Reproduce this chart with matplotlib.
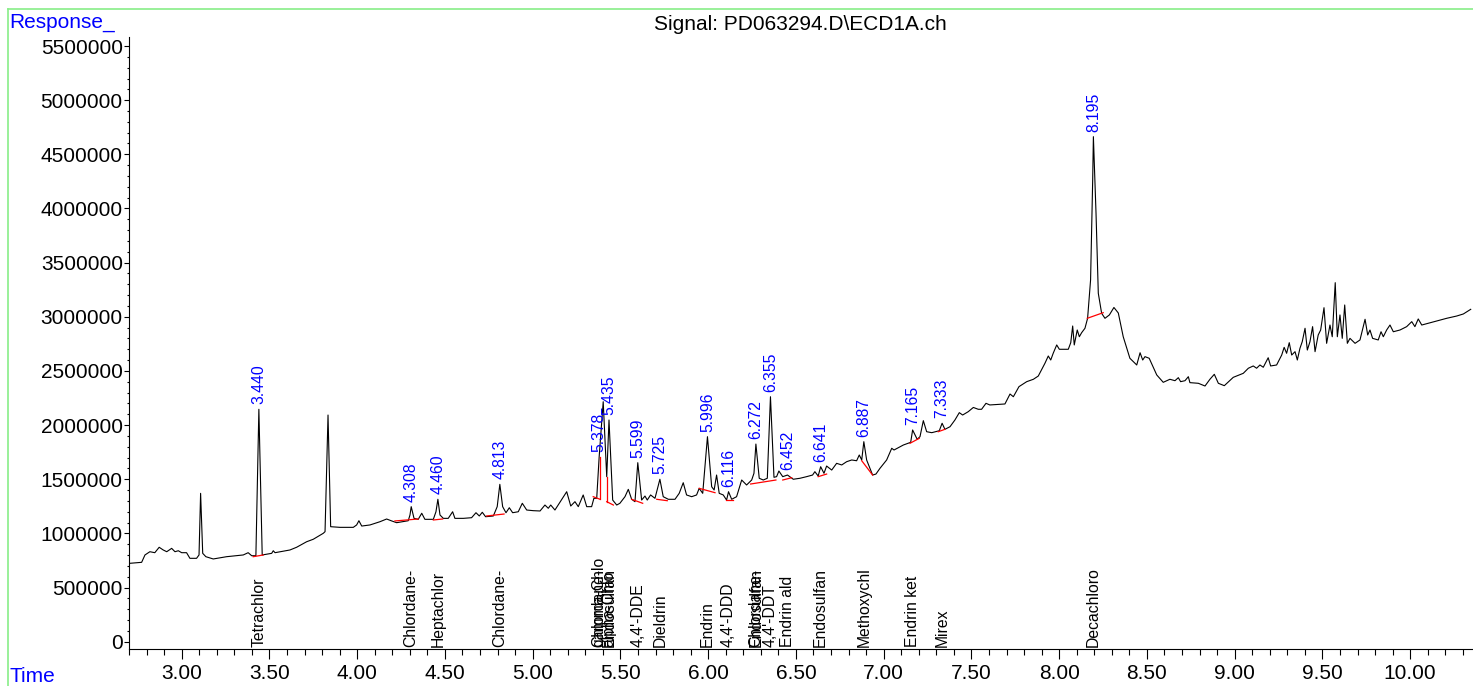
import matplotlib
matplotlib.use("Agg")
import matplotlib.pyplot as plt
from matplotlib.ticker import MultipleLocator, FuncFormatter
from matplotlib.lines import Line2D

plt.rcParams['font.family'] = ['Liberation Sans', 'DejaVu Sans']

# Step 1: trace (time in min, response)
time = [2.705, 2.772, 2.791, 2.819, 2.847, 2.872, 2.895, 2.915, 2.943, 2.962,
        2.981, 3.000, 3.028, 3.047, 3.085, 3.099, 3.108, 3.120, 3.138, 3.180,
        3.256, 3.313, 3.351, 3.379, 3.399, 3.423, 3.440, 3.459, 3.513, 3.522,
        3.532, 3.617, 3.655, 3.712, 3.750, 3.807, 3.817, 3.834, 3.849, 3.902,
        3.978, 3.997, 4.010, 4.026, 4.073, 4.130, 4.168, 4.197, 4.225, 4.291,
        4.301, 4.308, 4.324, 4.348, 4.368, 4.386, 4.434, 4.449, 4.460, 4.472,
        4.491, 4.519, 4.544, 4.557, 4.605, 4.652, 4.677, 4.696, 4.713, 4.732,
        4.776, 4.798, 4.813, 4.829, 4.848, 4.867, 4.886, 4.918, 4.941, 4.966,
        5.003, 5.042, 5.070, 5.089, 5.103, 5.127, 5.194, 5.217, 5.241, 5.260,
        5.288, 5.308, 5.336, 5.349, 5.365, 5.379, 5.402, 5.422, 5.435, 5.456,
        5.479, 5.497, 5.526, 5.545, 5.564, 5.583, 5.599, 5.621, 5.640, 5.653,
        5.672, 5.697, 5.725, 5.744, 5.773, 5.811, 5.835, 5.858, 5.877, 5.906,
        5.934, 5.949, 5.969, 5.996, 6.020, 6.034, 6.048, 6.063, 6.086, 6.105,
        6.116, 6.134, 6.162, 6.191, 6.219, 6.248, 6.261, 6.272, 6.291, 6.314,
        6.337, 6.355, 6.375, 6.390, 6.403, 6.425, 6.452, 6.485, 6.523, 6.561,
        6.595, 6.608, 6.627, 6.641, 6.660, 6.675, 6.704, 6.732, 6.761, 6.789,
        6.818, 6.846, 6.861, 6.875, 6.887, 6.903, 6.937, 6.956, 6.979, 7.017,
        7.046, 7.059, 7.112, 7.154, 7.165, 7.191, 7.207, 7.226, 7.245, 7.274,
        7.317, 7.333, 7.349, 7.378, 7.406, 7.431, 7.450, 7.482, 7.511, 7.539,
        7.558, 7.583, 7.605, 7.691, 7.720, 7.739, 7.771, 7.815, 7.853, 7.881,
        7.919, 7.938, 7.952, 7.966, 7.986, 8.001, 8.052, 8.066, 8.077, 8.086,
        8.103, 8.115, 8.128, 8.147, 8.162, 8.179, 8.191, 8.195, 8.210, 8.223,
        8.242, 8.261, 8.286, 8.312, 8.337, 8.365, 8.403, 8.442, 8.461, 8.476,
        8.489, 8.513, 8.556, 8.593, 8.631, 8.660, 8.679, 8.692, 8.717, 8.736,
        8.745, 8.793, 8.831, 8.859, 8.884, 8.907, 8.941, 8.992, 9.049, 9.078,
        9.106, 9.125, 9.144, 9.163, 9.191, 9.205, 9.239, 9.268, 9.282, 9.296,
        9.311, 9.325, 9.344, 9.357, 9.372, 9.385, 9.401, 9.414, 9.429, 9.444,
        9.458, 9.476, 9.490, 9.509, 9.524, 9.543, 9.556, 9.573, 9.585, 9.600,
        9.613, 9.627, 9.642, 9.657, 9.686, 9.714, 9.743, 9.758, 9.771, 9.786,
        9.818, 9.834, 9.847, 9.866, 9.885, 9.904, 9.942, 9.980, 10.009, 10.027,
        10.046, 10.066, 10.103, 10.151, 10.208, 10.265, 10.303, 10.345]

response = [724000, 733000, 801000, 831000, 822000, 872000, 847000, 831000, 862000, 831000,
            840000, 822000, 822000, 770000, 770000, 801000, 1370000, 816000, 785000, 764000,
            785000, 794000, 801000, 822000, 794000, 794000, 2146000, 801000, 816000, 840000,
            822000, 847000, 872000, 923000, 946000, 1001000, 1016000, 2093000, 1062000, 1056000,
            1056000, 1078000, 1117000, 1068000, 1078000, 1108000, 1133000, 1115000, 1099000, 1117000,
            1170000, 1247000, 1139000, 1130000, 1186000, 1130000, 1130000, 1200000, 1315000, 1170000,
            1139000, 1139000, 1200000, 1139000, 1139000, 1145000, 1191000, 1161000, 1195000, 1154000,
            1161000, 1247000, 1453000, 1247000, 1191000, 1237000, 1191000, 1200000, 1278000, 1216000,
            1210000, 1207000, 1262000, 1232000, 1262000, 1216000, 1385000, 1253000, 1293000, 1247000,
            1355000, 1247000, 1247000, 1324000, 1324000, 1708000, 2216000, 1524000, 2047000, 1308000,
            1262000, 1278000, 1339000, 1407000, 1315000, 1293000, 1653000, 1308000, 1345000, 1308000,
            1355000, 1324000, 1500000, 1339000, 1315000, 1315000, 1370000, 1468000, 1355000, 1339000,
            1355000, 1416000, 1370000, 1893000, 1431000, 1401000, 1539000, 1370000, 1355000, 1308000,
            1385000, 1315000, 1339000, 1493000, 1447000, 1493000, 1555000, 1825000, 1509000, 1493000,
            1509000, 2262000, 1518000, 1524000, 1576000, 1524000, 1539000, 1500000, 1509000, 1524000,
            1539000, 1570000, 1530000, 1616000, 1555000, 1622000, 1585000, 1647000, 1632000, 1662000,
            1678000, 1671000, 1724000, 1678000, 1847000, 1678000, 1539000, 1548000, 1601000, 1678000,
            1786000, 1770000, 1816000, 1841000, 1955000, 1869000, 1893000, 2041000, 1939000, 1930000,
            1948000, 2017000, 1961000, 1985000, 2047000, 2115000, 2093000, 2124000, 2163000, 2146000,
            2146000, 2201000, 2186000, 2195000, 2287000, 2262000, 2355000, 2401000, 2423000, 2453000,
            2571000, 2638000, 2601000, 2663000, 2740000, 2700000, 2700000, 2761000, 2915000, 2740000,
            2878000, 2816000, 2853000, 2894000, 2986000, 3340000, 4263000, 4663000, 3956000, 3217000,
            3032000, 2986000, 3017000, 3086000, 3035000, 2816000, 2617000, 2555000, 2668000, 2601000,
            2632000, 2617000, 2463000, 2395000, 2423000, 2410000, 2438000, 2401000, 2410000, 2447000,
            2392000, 2386000, 2361000, 2423000, 2469000, 2386000, 2364000, 2441000, 2478000, 2525000,
            2546000, 2525000, 2555000, 2534000, 2622000, 2546000, 2555000, 2647000, 2718000, 2663000,
            2761000, 2647000, 2678000, 2601000, 2709000, 2770000, 2894000, 2693000, 2770000, 2909000,
            2678000, 2832000, 2878000, 3084000, 2755000, 2924000, 2816000, 3315000, 2816000, 3017000,
            2801000, 3109000, 2755000, 2801000, 2755000, 2786000, 2977000, 2832000, 2878000, 2801000,
            2786000, 2862000, 2816000, 2878000, 2924000, 2862000, 2878000, 2909000, 2955000, 2909000,
            2980000, 2924000, 2940000, 2961000, 2986000, 3007000, 3026000, 3069000]

# integrated peaks: retention time label and apex response
peak_rt = ["3.440", "4.308", "4.460", "4.813", "5.378", "5.435", "5.599", "5.725", "5.996",
           "6.116", "6.272", "6.355", "6.452", "6.641", "6.887", "7.165", "7.333", "8.195"]
peak_apex = [2146000, 1247000, 1315000, 1453000, 1708000, 2047000, 1653000, 1500000, 1893000,
             1385000, 1825000, 2262000, 1539000, 1616000, 1847000, 1955000, 2017000, 4663000]

# baselines drawn under the peaks (t0, v0, t1, v1)
base_t0 = [3.408, 4.215, 4.434, 4.738, 5.345, 5.422, 5.564, 5.707, 5.949, 6.100, 6.242, 6.425, 6.627, 6.875, 7.150, 7.311, 8.160]
base_v0 = [785000, 1115000, 1124000, 1161000, 1339000, 1293000, 1315000, 1315000, 1416000, 1308000, 1456000, 1493000, 1524000, 1671000, 1832000, 1939000, 2986000]
base_t1 = [3.465, 4.348, 4.487, 4.837, 5.384, 5.460, 5.627, 5.767, 6.039, 6.143, 6.386, 6.476, 6.675, 6.937, 7.203, 7.349, 8.251]
base_v1 = [801000, 1133000, 1133000, 1179000, 1315000, 1262000, 1278000, 1302000, 1376000, 1308000, 1493000, 1514000, 1548000, 1539000, 1878000, 1961000, 3038000]

# drop lines between the 5.378 / 5.435 pair
drop_t = [5.384, 5.422]
drop_lo = [1315000, 1293000]
drop_hi = [1708000, 1524000]

# compound names printed at the bottom
name_rt = [3.440, 4.308, 4.460, 4.813, 5.378, 5.378, 5.435, 5.435, 5.599, 5.725, 5.996,
           6.116, 6.272, 6.272, 6.355, 6.452, 6.641, 6.887, 7.165, 7.333, 8.195]
name_txt = ["Tetrachlor", "Chlordane-", "Heptachlor", "Chlordane-", "Chlordane-", "gamma-Chlo",
            "Endosulfan", "alpha-Chlo", "4,4'-DDE", "Dieldrin", "Endrin", "4,4'-DDD",
            "Chlordane-", "Endosulfan", "4,4'-DDT", "Endrin ald", "Endosulfan", "Methoxychl",
            "Endrin ket", "Mirex", "Decachloro"]

# Step 2: figure
fig = plt.figure(figsize=(14.73, 6.86), dpi=100)
W, H = 1473, 686
ax = fig.add_axes([129 / W, (H - 649.3) / H, (W - 129) / W, (649.3 - 36.7) / H])

ax.plot(time, response, color="black", lw=0.8)

for i in range(len(base_t0)):
    ax.plot([base_t0[i], base_t1[i]], [base_v0[i], base_v1[i]], color="red", lw=0.9)
for i in range(len(drop_t)):
    ax.plot([drop_t[i], drop_t[i]], [drop_lo[i], drop_hi[i]], color="red", lw=0.9)

for i, lab in enumerate(peak_rt):
    ax.annotate(lab, xy=(float(lab), peak_apex[i]), xytext=(0, 3.5), textcoords="offset points",
                rotation=90, ha="center", va="bottom", color="#0000ff", fontsize=11.3)

trans = ax.get_xaxis_transform()
for i, nm in enumerate(name_txt):
    ax.text(name_rt[i], 0.004, nm, transform=trans, rotation=90, ha="center", va="bottom",
            color="black", fontsize=11.3)

ax.set_xlim(2.70, 10.358)
ax.set_ylim(-70000, 5586000)
ax.spines["top"].set_visible(False)
ax.spines["right"].set_visible(False)
ax.xaxis.set_major_locator(MultipleLocator(0.5))
ax.xaxis.set_minor_locator(MultipleLocator(0.1))
ax.xaxis.set_major_formatter(FuncFormatter(lambda v, p: f"{v:.2f}"))
ax.yaxis.set_major_locator(MultipleLocator(500000))
ax.yaxis.set_minor_locator(MultipleLocator(100000))
ax.yaxis.set_major_formatter(FuncFormatter(lambda v, p: f"{int(round(v))}"))
ax.tick_params(axis="x", which="major", length=7.5, width=0.8, pad=3, labelsize=15)
ax.tick_params(axis="x", which="minor", length=4, width=0.8)
ax.tick_params(axis="y", which="major", length=3.5, width=0.8, pad=1, labelsize=15)
ax.tick_params(axis="y", which="minor", length=1.8, width=0.8)

fig.text(9 / W, 1 - 22 / H, "Response_", color="#0000ff", fontsize=15, ha="left", va="center")
fig.text(10 / W, 1 - 677 / H, "Time", color="#0000ff", fontsize=15, ha="left", va="center")
fig.text(800 / W, 1 - 25 / H, "Signal: PD063294.D\\ECD1A.ch", color="black", fontsize=15,
         ha="center", va="center")

# light green frame around the plot area
fig.add_artist(Line2D([8 / W, 1.0], [1 - 9 / H, 1 - 9 / H], color="#88ee88", lw=1.2))
fig.add_artist(Line2D([8 / W, 8 / W], [0, 1 - 9 / H], color="#88ee88", lw=1.2))

fig.savefig("out.png", dpi=100)
